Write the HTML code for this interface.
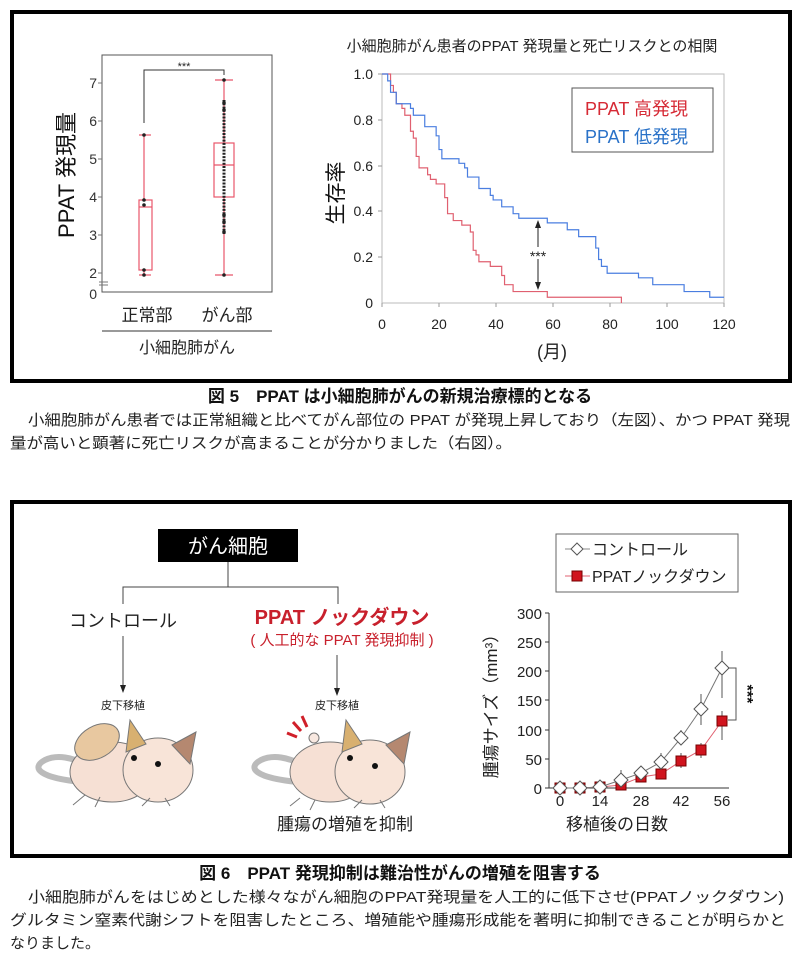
<!DOCTYPE html>
<html><head><meta charset="utf-8"><style>
body{margin:0;background:#fff}
svg{display:block}
text{font-family:"Liberation Sans","Noto Sans CJK JP",sans-serif}
</style></head><body>
<svg width="800" height="964" viewBox="0 0 800 964" xmlns="http://www.w3.org/2000/svg">
<rect x="12" y="12" width="778" height="369" fill="none" stroke="#000" stroke-width="4"/>
<rect x="12" y="502" width="778" height="354" fill="none" stroke="#000" stroke-width="4"/>

<!-- BOX PLOT -->
<rect x="102" y="55" width="170" height="237" fill="none" stroke="#555" stroke-width="1"/>
<g fill="#333" font-size="14" text-anchor="end">
<text x="97" y="88">7</text><text x="97" y="126">6</text><text x="97" y="164">5</text>
<text x="97" y="202">4</text><text x="97" y="240">3</text><text x="97" y="278">2</text><text x="97" y="299">0</text>
</g>
<g stroke="#777" stroke-width="1">
<line x1="102" y1="83" x2="98" y2="83"/><line x1="102" y1="121" x2="98" y2="121"/><line x1="102" y1="159" x2="98" y2="159"/>
<line x1="102" y1="197" x2="98" y2="197"/><line x1="102" y1="235" x2="98" y2="235"/><line x1="102" y1="273" x2="98" y2="273"/>
<line x1="99" y1="282" x2="108" y2="282"/><line x1="99" y1="285" x2="108" y2="285"/>
</g>
<text transform="translate(74,175) rotate(-90)" font-size="22" text-anchor="middle" fill="#111">PPAT 発現量</text>
<g stroke="#e8566a" stroke-width="1.2" fill="none">
<line x1="144" y1="135" x2="144" y2="200"/><line x1="144" y1="270" x2="144" y2="275"/>
<line x1="139" y1="135" x2="151" y2="135"/><line x1="139" y1="275" x2="151" y2="275"/>
<rect x="139" y="200" width="13" height="70"/><line x1="139" y1="207" x2="152" y2="207"/>
<line x1="224" y1="80" x2="224" y2="143"/><line x1="224" y1="197" x2="224" y2="275"/>
<line x1="215" y1="80" x2="233" y2="80"/><line x1="215" y1="275" x2="233" y2="275"/>
<rect x="214" y="143" width="20" height="54"/><line x1="214" y1="165" x2="234" y2="165"/>
</g>
<g fill="#222">
<circle cx="144" cy="135" r="1.8"/><circle cx="144" cy="200" r="1.8"/><circle cx="144" cy="205" r="1.8"/>
<circle cx="144" cy="270" r="1.8"/><circle cx="144" cy="275" r="1.8"/>
<circle cx="224" cy="80" r="1.8"/><circle cx="224" cy="275" r="1.8"/>
</g>
<line x1="224" y1="100" x2="224" y2="235" stroke="#222" stroke-width="3" stroke-dasharray="2 1.3"/>
<g fill="#222"><circle cx="224" cy="103" r="1.8"/><circle cx="224" cy="110" r="1.8"/><circle cx="224" cy="215" r="1.8"/><circle cx="224" cy="222" r="1.8"/><circle cx="224" cy="232" r="1.8"/></g>
<polyline points="144,123 144,70 224,70 224,75" fill="none" stroke="#333" stroke-width="1"/>
<text x="184" y="70" font-size="11" text-anchor="middle" fill="#222">***</text>
<text x="147" y="321" font-size="17" text-anchor="middle" fill="#222">正常部</text>
<text x="227" y="321" font-size="17" text-anchor="middle" fill="#222">がん部</text>
<line x1="102" y1="331" x2="272" y2="331" stroke="#333" stroke-width="1"/>
<text x="187" y="353" font-size="16" text-anchor="middle" fill="#222">小細胞肺がん</text>

<!-- KM -->
<text x="532" y="51" font-size="15" text-anchor="middle" fill="#222">小細胞肺がん患者のPPAT 発現量と死亡リスクとの相関</text>
<polyline points="382,74 724,74 724,303 382,303 382,74" fill="none" stroke="#bbb" stroke-width="1"/>
<g stroke="#999" stroke-width="1">
<line x1="382" y1="303" x2="382" y2="307"/><line x1="439" y1="303" x2="439" y2="307"/><line x1="496" y1="303" x2="496" y2="307"/><line x1="553" y1="303" x2="553" y2="307"/><line x1="610" y1="303" x2="610" y2="307"/><line x1="667" y1="303" x2="667" y2="307"/><line x1="724" y1="303" x2="724" y2="307"/>
<line x1="378" y1="74" x2="382" y2="74"/><line x1="378" y1="120" x2="382" y2="120"/><line x1="378" y1="166" x2="382" y2="166"/><line x1="378" y1="211" x2="382" y2="211"/><line x1="378" y1="257" x2="382" y2="257"/>
</g>
<g fill="#222" font-size="14" text-anchor="end">
<text x="373" y="79">1.0</text><text x="373" y="125">0.8</text><text x="373" y="171">0.6</text>
<text x="373" y="216">0.4</text><text x="373" y="262">0.2</text><text x="373" y="308">0</text>
</g>
<g fill="#222" font-size="14" text-anchor="middle">
<text x="382" y="329">0</text><text x="439" y="329">20</text><text x="496" y="329">40</text><text x="553" y="329">60</text>
<text x="610" y="329">80</text><text x="667" y="329">100</text><text x="724" y="329">120</text>
</g>
<text x="552" y="358" font-size="18" text-anchor="middle" fill="#222">(月)</text>
<text transform="translate(343,193) rotate(-90)" font-size="21" text-anchor="middle" fill="#111">生存率</text>
<g transform="translate(382,303) scale(2.85,-229)" fill="none" stroke-width="1.2">
<polyline vector-effect="non-scaling-stroke" stroke="#e06070" points="0,1 3,1 3,0.95 4,0.95 4,0.92 5,0.92 5,0.87 7,0.87 7,0.85 8,0.85 8,0.82 10,0.82 10,0.75 11,0.75 11,0.72 12,0.72 12,0.64 13,0.64 13,0.59 16,0.59 16,0.56 17,0.56 17,0.54 19,0.54 19,0.52 22,0.52 22,0.46 23,0.46 23,0.39 25,0.39 25,0.36 28,0.36 28,0.34 31,0.34 31,0.31 32,0.31 32,0.23 33,0.23 33,0.21 34,0.21 34,0.18 38,0.18 38,0.16 42,0.16 42,0.12 43,0.12 43,0.08 46,0.08 46,0.05 58,0.05 58,0.025 84,0.025 84,0"/>
<polyline vector-effect="non-scaling-stroke" stroke="#4a7ee0" points="0,1 2,1 2,0.97 3,0.97 3,0.92 5,0.92 5,0.87 10,0.87 10,0.85 11,0.85 11,0.82 15,0.82 15,0.77 19,0.77 19,0.73 20,0.73 20,0.67 21,0.67 21,0.63 27,0.63 27,0.61 29,0.61 29,0.59 30,0.59 30,0.55 34,0.55 34,0.50 38,0.50 38,0.47 39,0.47 39,0.45 42,0.45 42,0.42 46,0.42 46,0.39 48,0.39 48,0.37 58,0.37 58,0.35 65,0.35 65,0.32 69,0.32 69,0.29 75,0.29 75,0.24 76,0.24 76,0.19 77,0.19 77,0.16 79,0.16 79,0.13 90,0.13 90,0.11 95,0.11 95,0.08 106,0.08 106,0.05 115,0.05 115,0.025 120,0.025"/>
</g>
<line x1="538" y1="224" x2="538" y2="286" stroke="#222" stroke-width="1"/>
<polygon points="538,220 535,228 541,228" fill="#222"/><polygon points="538,290 535,282 541,282" fill="#222"/>
<rect x="526" y="247" width="24" height="12" fill="#fff"/>
<text x="538" y="261" font-size="14" text-anchor="middle" fill="#222">***</text>
<rect x="572" y="88" width="141" height="64" fill="#fff" stroke="#555" stroke-width="1"/>
<text x="585" y="115" font-size="18" fill="#d62a35">PPAT 高発現</text>
<text x="585" y="143" font-size="18" fill="#2a72c8">PPAT 低発現</text>

<text x="400" y="402" font-size="17" font-weight="bold" text-anchor="middle" fill="#111">図 5　PPAT は小細胞肺がんの新規治療標的となる</text>
<text x="28" y="425" font-size="15" fill="#222" textLength="762" lengthAdjust="spacingAndGlyphs">小細胞肺がん患者では正常組織と比べてがん部位の PPAT が発現上昇しており（左図）、かつ PPAT 発現</text>
<text x="10" y="448" font-size="15" fill="#222" textLength="502" lengthAdjust="spacingAndGlyphs">量が高いと顕著に死亡リスクが高まることが分かりました（右図）。</text>

<!-- bottom diagram -->
<rect x="158" y="529" width="140" height="33" fill="#000"/>
<text x="228" y="553" font-size="20" text-anchor="middle" fill="#fff">がん細胞</text>
<g stroke="#444" stroke-width="1" fill="none">
<line x1="228" y1="562" x2="228" y2="587"/><polyline points="123,604 123,587 338,587 338,604"/>
<line x1="123" y1="636" x2="123" y2="688"/><line x1="337" y1="655" x2="337" y2="692"/>
</g>
<polygon points="123,693 120,685 126,685" fill="#222"/><polygon points="337,696 334,688 340,688" fill="#222"/>
<text x="123" y="627" font-size="18" text-anchor="middle" fill="#222">コントロール</text>
<text x="342" y="624" font-size="20" font-weight="bold" text-anchor="middle" fill="#c8202c">PPAT ノックダウン</text>
<text x="342" y="645" font-size="15" text-anchor="middle" fill="#c8202c">( 人工的な PPAT 発現抑制 )</text>
<text x="123" y="709" font-size="11" text-anchor="middle" fill="#222">皮下移植</text>
<text x="337" y="709" font-size="11" text-anchor="middle" fill="#222">皮下移植</text>

<!-- mouse 1 -->
<g stroke="#777" stroke-width="1">
<path d="M82,782 C40,778 30,768 45,760 C58,754 72,758 85,764" fill="none" stroke="#bbb" stroke-width="6"/>
<ellipse cx="112" cy="772" rx="42" ry="30" fill="#f6e0d4"/>
<ellipse cx="158" cy="770" rx="35" ry="32" fill="#f8e4d8"/>
<path d="M126,752 L130,720 L146,744 Z" fill="#d8b070"/>
<path d="M172,745 L196,732 L190,764 Z" fill="#b58870"/>
<ellipse cx="97" cy="742" rx="24" ry="16" fill="#e8c8a0" transform="rotate(-30 97 742)"/>
<path d="M85,795 l-12,10 M100,797 l-5,10 M150,798 l-8,8 M165,798 l5,8" fill="none"/>
</g>
<circle cx="134" cy="758" r="3" fill="#111"/><circle cx="158" cy="764" r="3" fill="#111"/>
<!-- mouse 2 -->
<g stroke="#777" stroke-width="1">
<path d="M298,782 C256,778 246,768 261,760 C274,754 288,758 301,764" fill="none" stroke="#bbb" stroke-width="6"/>
<ellipse cx="330" cy="772" rx="40" ry="30" fill="#f6e0d4"/>
<ellipse cx="370" cy="772" rx="35" ry="32" fill="#f8e4d8"/>
<path d="M342,752 L346,720 L362,744 Z" fill="#d8b070"/>
<path d="M386,745 L410,732 L404,764 Z" fill="#b58870"/>
<circle cx="314" cy="738" r="5" fill="#f8e8e0"/>
<path d="M300,798 l-10,8 M315,800 l-5,10 M362,800 l-8,8 M380,800 l5,8" fill="none"/>
</g>
<g stroke="#d0202a" stroke-width="3"><line x1="287" y1="733" x2="297" y2="737"/><line x1="293" y1="722" x2="301" y2="731"/><line x1="302" y1="716" x2="307" y2="727"/></g>
<circle cx="350" cy="758" r="3" fill="#111"/><circle cx="375" cy="766" r="3" fill="#111"/>
<text x="345" y="830" font-size="17" text-anchor="middle" fill="#222">腫瘍の増殖を抑制</text>

<!-- growth chart -->
<rect x="556" y="534" width="182" height="58" fill="#fff" stroke="#666" stroke-width="1"/>
<line x1="565" y1="549" x2="590" y2="549" stroke="#888"/>
<polygon points="577,543 583,549 577,555 571,549" fill="#fff" stroke="#555"/>
<text x="592" y="555" font-size="16" fill="#222">コントロール</text>
<line x1="565" y1="576" x2="590" y2="576" stroke="#e06070"/>
<rect x="572" y="571" width="10" height="10" fill="#d0141e" stroke="#700"/>
<text x="592" y="582" font-size="16" fill="#222">PPATノックダウン</text>
<g stroke="#333" stroke-width="1"><line x1="549" y1="613" x2="549" y2="788"/><line x1="549" y1="788" x2="729" y2="788"/>
<line x1="549" y1="613" x2="545" y2="613"/><line x1="549" y1="642" x2="545" y2="642"/><line x1="549" y1="671" x2="545" y2="671"/><line x1="549" y1="700" x2="545" y2="700"/><line x1="549" y1="730" x2="545" y2="730"/><line x1="549" y1="759" x2="545" y2="759"/><line x1="549" y1="788" x2="545" y2="788"/></g>
<g fill="#222" font-size="15" text-anchor="end">
<text x="542" y="619">300</text><text x="542" y="648">250</text><text x="542" y="677">200</text><text x="542" y="706">150</text><text x="542" y="736">100</text><text x="542" y="765">50</text><text x="542" y="794">0</text>
</g>
<g fill="#222" font-size="15" text-anchor="middle">
<text x="560" y="806">0</text><text x="600" y="806">14</text><text x="641" y="806">28</text><text x="681" y="806">42</text><text x="722" y="806">56</text>
</g>
<text x="617" y="830" font-size="17" text-anchor="middle" fill="#222">移植後の日数</text>
<text transform="translate(497,702) rotate(-90)" font-size="17" text-anchor="middle" fill="#222">腫瘍サイズ（mm³）</text>
<g stroke="#555" stroke-width="1">
<line x1="621" y1="780" x2="621" y2="770"/><line x1="641" y1="779" x2="641" y2="768"/><line x1="661" y1="767" x2="661" y2="753"/>
<line x1="681" y1="745" x2="681" y2="730"/><line x1="701" y1="725" x2="701" y2="694"/><line x1="722" y1="698" x2="722" y2="651"/>
<line x1="661" y1="779" x2="661" y2="769"/><line x1="681" y1="768" x2="681" y2="753"/><line x1="701" y1="758" x2="701" y2="743"/><line x1="722" y1="740" x2="722" y2="711"/>
</g>
<polyline points="560,788 580,788 600,787 621,785 641,777 661,774 681,761 701,750 722,721" fill="none" stroke="#e06070"/>
<polyline points="560,788 580,788 600,787 621,780 641,773 661,762 681,738 701,709 722,668" fill="none" stroke="#777"/>
<g fill="#d0141e" stroke="#700"><rect x="555" y="783" width="10" height="10"/><rect x="575" y="783" width="10" height="10"/><rect x="595" y="782" width="10" height="10"/><rect x="616" y="780" width="10" height="10"/><rect x="636" y="772" width="10" height="10"/><rect x="656" y="769" width="10" height="10"/><rect x="676" y="756" width="10" height="10"/><rect x="696" y="745" width="10" height="10"/><rect x="717" y="716" width="10" height="10"/></g>
<g fill="#fff" stroke="#555"><polygon points="560,781 567,788 560,795 553,788"/><polygon points="580,781 587,788 580,795 573,788"/><polygon points="600,780 607,787 600,794 593,787"/><polygon points="621,773 628,780 621,787 614,780"/><polygon points="641,766 648,773 641,780 634,773"/><polygon points="661,755 668,762 661,769 654,762"/><polygon points="681,731 688,738 681,745 674,738"/><polygon points="701,702 708,709 701,716 694,709"/><polygon points="722,661 729,668 722,675 715,668"/></g>
<polyline points="728,668 736,668 736,720 728,720" fill="none" stroke="#555"/>
<text transform="translate(742,694) rotate(90)" font-size="16" font-weight="bold" text-anchor="middle" fill="#111">***</text>

<text x="400" y="879" font-size="17" font-weight="bold" text-anchor="middle" fill="#111">図 6　PPAT 発現抑制は難治性がんの増殖を阻害する</text>
<text x="28" y="902" font-size="15" fill="#222" textLength="756" lengthAdjust="spacingAndGlyphs">小細胞肺がんをはじめとした様々ながん細胞のPPAT発現量を人工的に低下させ(PPATノックダウン)</text>
<text x="10" y="925" font-size="15" fill="#222" textLength="776" lengthAdjust="spacingAndGlyphs">グルタミン窒素代謝シフトを阻害したところ、増殖能や腫瘍形成能を著明に抑制できることが明らかと</text>
<text x="10" y="948" font-size="15" fill="#222">なりました。</text>
</svg>
</body></html>
